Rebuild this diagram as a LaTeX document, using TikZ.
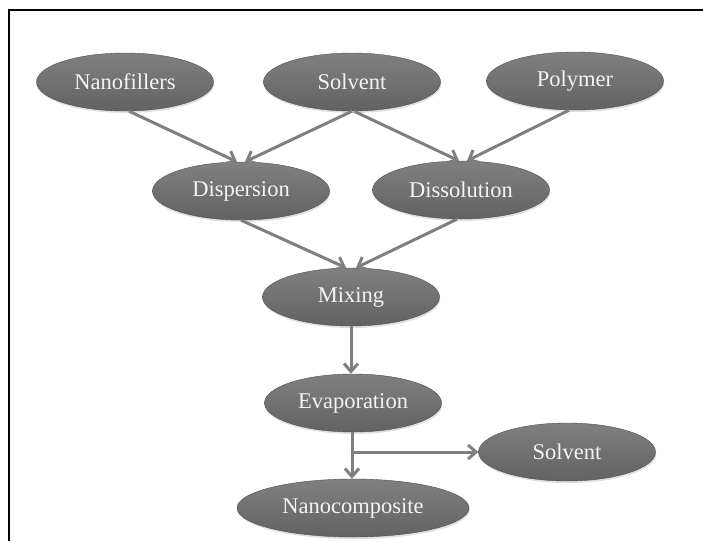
\documentclass[tikz,border=0pt]{standalone}
\usepackage{fontspec}
\setmainfont{Liberation Serif}
\usetikzlibrary{shapes.geometric,arrows.meta,shadows}
\definecolor{arrowgray}{HTML}{7F7F7F}
\definecolor{elltop}{HTML}{808080}
\definecolor{ellbot}{HTML}{626262}
\definecolor{txtwhite}{HTML}{F4F4F4}
\tikzset{
  proc/.style={ellipse, minimum width=177pt, minimum height=58pt, inner sep=0pt,
    top color=elltop, bottom color=ellbot, draw=ellbot!80!black, line width=0.4pt,
    drop shadow={opacity=0.25, shadow xshift=0.8pt, shadow yshift=-2pt},
    text=txtwhite, font=\fontsize{22.5}{26}\selectfont},
  flow/.style={draw=arrowgray, line width=3pt,
    -{Straight Barb[length=8pt, width=14pt, line width=3pt]}},
  frameline/.style={draw=black, line width=2pt}
}
\begin{document}
\begin{tikzpicture}[x=1pt, y=-1pt]
\useasboundingbox (0,0) rectangle (703,541);
\draw[frameline] (703,10) -- (9,10) -- (9,541);
\node[proc] (nf) at (125,82) {Nanofillers};
\node[proc] (sv) at (352,82) {Solvent};
\node[proc] (pm) at (575,81) {Polymer};
\node[proc] (dp) at (241,191) {Dispersion};
\node[proc] (ds) at (461,190) {Dissolution};
\node[proc] (mx) at (351,297) {Mixing};
\node[proc] (ev) at (353,403) {Evaporation};
\node[proc, minimum width=232pt] (nc) at (353,508) {Nanocomposite};
\node[proc] (so) at (567,452) {Solvent};
\coordinate (br) at (352,452);
\draw[flow] ([xshift=4pt]nf.south) -- ([xshift=-4pt]dp.north);
\draw[flow] (sv.south) -- ([xshift=4pt]dp.north);
\draw[flow] ([xshift=2pt]sv.south) -- ([xshift=-2pt]ds.north);
\draw[flow] ([xshift=-6pt]pm.south) -- ([xshift=6pt]ds.north);
\draw[flow] (dp.south) -- ([xshift=-5pt]mx.north);
\draw[flow] ([xshift=-4pt]ds.south) -- ([xshift=5pt]mx.north);
\draw[flow] (mx.south) -- (mx.south |- ev.north);
\draw[flow] ([xshift=-1pt]ev.south) -- ([xshift=-1pt]ev.south |- nc.north);
\draw[flow] ([xshift=-1.5pt]br) -- (so.west);
\end{tikzpicture}
\end{document}
